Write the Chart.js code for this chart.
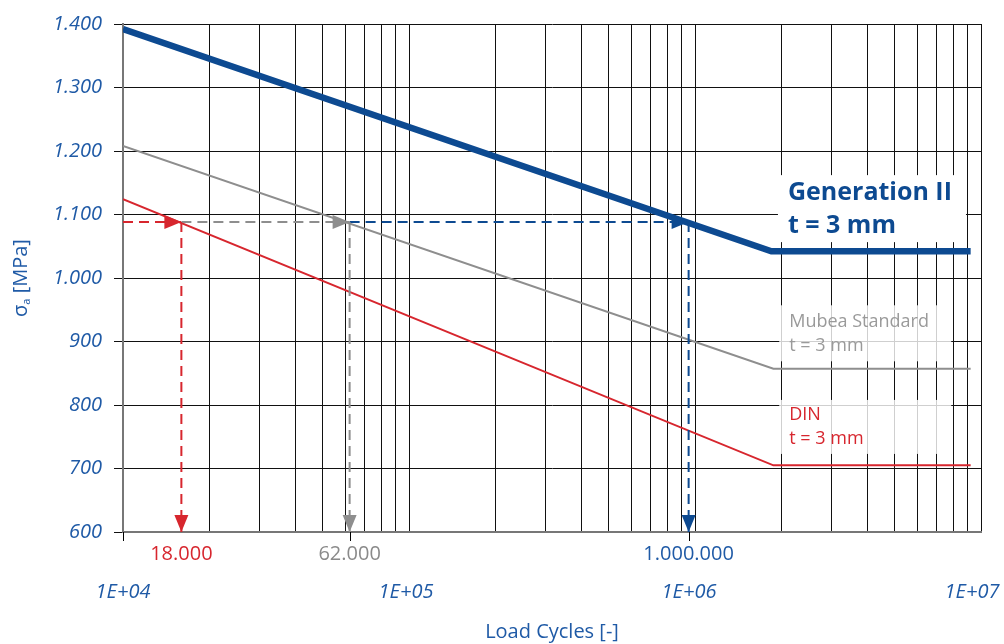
<!DOCTYPE html>
<html>
<head>
<meta charset="utf-8">
<script src="https://cdn.jsdelivr.net/npm/chart.js@4.4.1/dist/chart.umd.min.js"></script>
<style>
  html, body { margin: 0; padding: 0; background: #fff; }
  #wrap { width: 1004px; height: 644px; position: relative; }
</style>
</head>
<body>
<div id="wrap"><canvas id="myChart"></canvas></div>
<script>
// Woehler curves, x = load cycles (log), y = stress amplitude [MPa]
const genIIx = [1e4, 1.85e6, 9.2e6];
const genIIy = [1392, 1042, 1042];
const mubeaX = [1e4, 1.88e6, 9.2e6];
const mubeaY = [1208, 857, 857];
const dinX = [1e4, 1.88e6, 9.2e6];
const dinY = [1124, 705, 705];

// read-off at the same stress level
const readLevel = 1088;
const markerX = [16000, 62000, 950000];
const markerLabels = ['18.000', '62.000', '1.000.000'];

// axes
const decadeTicks = [1e4, 1e5, 1e6, 1e7];
const decadeLabels = ['1E+04', '1E+05', '1E+06', '1E+07'];
const yMin = 600, yMax = 1400, yStep = 100;

const BLUE = '#0d4a91';
const BLUE_TXT = '#1f5aa6';
const GRAY = '#8e8e8e';
const RED = '#d7262e';
const FONT = "'Open Sans', sans-serif";

const pts = (xs, ys) => xs.map((x, i) => ({ x: x, y: ys[i] }));

function dashed(x0, y0, x1, y1, color) {
  return {
    data: [{ x: x0, y: y0 }, { x: x1, y: y1 }],
    borderColor: color,
    borderWidth: 2,
    borderDash: [10, 6],
    pointRadius: 0,
    showLine: true,
    arrowHead: true
  };
}

const colors = [RED, GRAY, BLUE];
const readLines = [];
markerX.forEach((mx, i) => {
  const from = i === 0 ? decadeTicks[0] : markerX[i - 1];
  readLines.push(dashed(from, readLevel, mx, readLevel, colors[i]));
  readLines.push(dashed(mx, readLevel, mx, yMin, colors[i]));
});

// full log grid 1..9 x 10^n
const gridX = [];
for (let e = 4; e < 7; e++) {
  for (let s = 1; s < 10; s++) gridX.push(s * Math.pow(10, e));
}
gridX.push(1e7);

function fmtThousands(v) {
  if (v < 1000) return String(v);
  return Math.floor(v / 1000) + '.' + String(v % 1000).padStart(3, '0');
}

// label boxes (anchored to data coords, offsets in px)
const notes = [
  { x: 1.95e6, y: 1162, w: 188, h: 67, alpha: 1, color: BLUE, bold: true, size: 25,
    lines: ['Generation II', 't = 3 mm'], dy: [18, 51] },
  { x: 1.97e6, y: 957, w: 172, h: 56, alpha: 0.8, color: '#9a9a9a', bold: false, size: 18,
    lines: ['Mubea Standard', 't = 3 mm'], dy: [17, 41] },
  { x: 1.97e6, y: 808, w: 172, h: 54, alpha: 0.8, color: RED, bold: false, size: 18,
    lines: ['DIN', 't = 3 mm'], dy: [15, 39] }
];

const boxPlugin = {
  id: 'boxes',
  beforeDatasetsDraw(chart) {
    const { ctx, scales: { x, y } } = chart;
    ctx.save();
    notes.forEach(n => {
      ctx.fillStyle = 'rgba(255,255,255,' + n.alpha + ')';
      ctx.fillRect(x.getPixelForValue(n.x), y.getPixelForValue(n.y), n.w, n.h);
    });
    ctx.restore();
  },
  afterDatasetsDraw(chart) {
    const { ctx, scales: { x, y } } = chart;
    ctx.save();
    // arrow heads at the end of read-off lines
    chart.data.datasets.forEach((ds, i) => {
      if (!ds.arrowHead) return;
      const el = chart.getDatasetMeta(i).data;
      const a = el[el.length - 2], b = el[el.length - 1];
      const ang = Math.atan2(b.y - a.y, b.x - a.x);
      const len = 17, hw = 7;
      ctx.fillStyle = ds.borderColor;
      ctx.beginPath();
      ctx.moveTo(b.x, b.y);
      ctx.lineTo(b.x - len * Math.cos(ang) - hw * Math.sin(ang), b.y - len * Math.sin(ang) + hw * Math.cos(ang));
      ctx.lineTo(b.x - len * Math.cos(ang) + hw * Math.sin(ang), b.y - len * Math.sin(ang) - hw * Math.cos(ang));
      ctx.closePath();
      ctx.fill();
    });
    // note texts
    notes.forEach(n => {
      const px = x.getPixelForValue(n.x) + 10;
      const py = y.getPixelForValue(n.y);
      ctx.fillStyle = n.color;
      ctx.font = (n.bold ? 'bold ' : '') + n.size + 'px ' + FONT;
      ctx.textBaseline = 'middle';
      ctx.textAlign = 'left';
      n.lines.forEach((t, k) => ctx.fillText(t, px, py + n.dy[k]));
    });
    ctx.restore();
  },
  afterDraw(chart) {
    const { ctx, chartArea, scales: { x } } = chart;
    ctx.save();
    ctx.textBaseline = 'middle';
    ctx.textAlign = 'center';
    // tick marks below the axis
    ctx.strokeStyle = '#000';
    ctx.lineWidth = 1;
    [decadeTicks[0], markerX[1], markerX[2]].forEach(v => {
      const px = Math.round(x.getPixelForValue(v)) + 0.5;
      ctx.beginPath();
      ctx.moveTo(px, chartArea.bottom);
      ctx.lineTo(px, chartArea.bottom + 9);
      ctx.stroke();
    });
    // marker labels
    ctx.font = '20px ' + FONT;
    markerX.forEach((v, i) => {
      ctx.fillStyle = colors[i] === GRAY ? '#8a8a8a' : (colors[i] === BLUE ? BLUE_TXT : RED);
      ctx.fillText(markerLabels[i], x.getPixelForValue(v), 554);
    });
    // decade labels
    const off = [0, -3, -6, -9];
    ctx.font = 'italic 20px ' + FONT;
    ctx.fillStyle = BLUE_TXT;
    decadeTicks.forEach((v, i) => ctx.fillText(decadeLabels[i], x.getPixelForValue(v) + off[i], 592));
    // axis titles
    ctx.font = '20px ' + FONT;
    ctx.fillText('Load Cycles [-]', (chartArea.left + chartArea.right) / 2, 632);
    ctx.translate(21, (chartArea.top + chartArea.bottom) / 2);
    ctx.rotate(-Math.PI / 2);
    ctx.textAlign = 'left';
    const s1 = 'σ', s3 = ' [MPa]';
    ctx.font = '20px ' + FONT;
    const w1 = ctx.measureText(s1).width;
    ctx.font = '11px ' + FONT;
    const w2 = ctx.measureText('a').width;
    ctx.font = '20px ' + FONT;
    const w3 = ctx.measureText(s3).width;
    let cx = -(w1 + w2 + w3) / 2;
    ctx.fillText(s1, cx, 0);
    cx += w1;
    ctx.font = '11px ' + FONT;
    ctx.fillText('a', cx, 6);
    cx += w2;
    ctx.font = '20px ' + FONT;
    ctx.fillText(s3, cx, 0);
    ctx.restore();
  }
};

const ctx = document.getElementById('myChart').getContext('2d');

new Chart(ctx, {
  type: 'scatter',
  data: {
    datasets: [
      { data: pts(genIIx, genIIy), borderColor: BLUE, borderWidth: 6.5, pointRadius: 0, showLine: true },
      ...readLines,
      { data: pts(mubeaX, mubeaY), borderColor: GRAY, borderWidth: 2, pointRadius: 0, showLine: true },
      { data: pts(dinX, dinY), borderColor: RED, borderWidth: 2, pointRadius: 0, showLine: true }
    ]
  },
  options: {
    responsive: true,
    maintainAspectRatio: false,
    animation: false,
    layout: { padding: { top: 23, right: 23, left: 10, bottom: 0 } },
    plugins: {
      legend: { display: false },
      tooltip: { enabled: false }
    },
    scales: {
      x: {
        type: 'logarithmic',
        min: decadeTicks[0],
        max: decadeTicks[decadeTicks.length - 1],
        afterBuildTicks: scale => { scale.ticks = gridX.map(v => ({ value: v })); },
        afterFit: scale => { scale.height = 112; },
        ticks: { display: false },
        grid: { color: '#111', lineWidth: 1, drawTicks: false },
        border: { color: '#777', width: 2 }
      },
      y: {
        min: yMin,
        max: yMax,
        afterFit: scale => { scale.width = 113; },
        ticks: {
          stepSize: yStep,
          padding: 12,
          color: BLUE_TXT,
          font: { family: FONT, size: 20, style: 'italic' },
          callback: v => fmtThousands(v)
        },
        grid: { color: '#111', lineWidth: 1, tickLength: 9, tickColor: '#111' },
        border: { color: '#777', width: 2 }
      }
    }
  },
  plugins: [boxPlugin]
});
</script>
</body>
</html>
